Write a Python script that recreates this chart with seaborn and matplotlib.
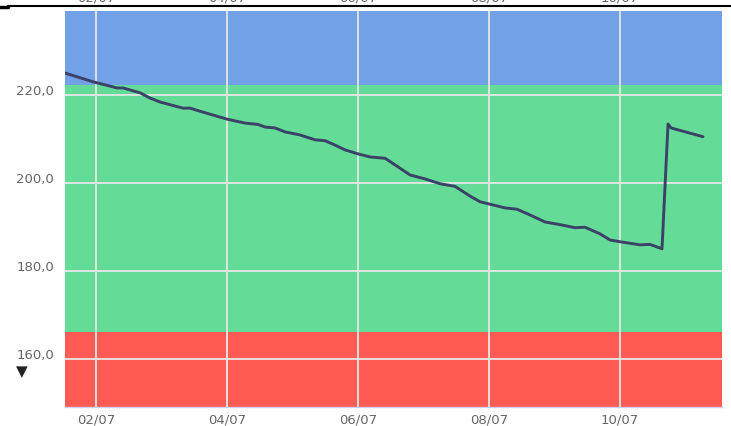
import pandas as pd
import matplotlib
matplotlib.use('Agg')
import matplotlib.pyplot as plt
import matplotlib.dates as mdates
from matplotlib.ticker import FuncFormatter
import seaborn as sns

# ==================== Data ====================
times = [
    '2023-07-01 12:38', '2023-07-01 22:54', '2023-07-02 07:42', '2023-07-02 09:54',
    '2023-07-02 16:06', '2023-07-02 19:48', '2023-07-02 23:27', '2023-07-03 07:52',
    '2023-07-03 10:26', '2023-07-03 15:12', '2023-07-04 00:00', '2023-07-04 06:35',
    '2023-07-04 11:21', '2023-07-04 13:55', '2023-07-04 17:35', '2023-07-04 21:15',
    '2023-07-05 02:45', '2023-07-05 08:14', '2023-07-05 11:54', '2023-07-05 15:34',
    '2023-07-05 19:14', '2023-07-06 00:00', '2023-07-06 04:24', '2023-07-06 09:54',
    '2023-07-06 13:34', '2023-07-06 19:03', '2023-07-07 00:33', '2023-07-07 06:03',
    '2023-07-07 11:32', '2023-07-07 17:02', '2023-07-07 20:42', '2023-07-08 00:00',
    '2023-07-08 05:52', '2023-07-08 10:16', '2023-07-08 15:01', '2023-07-08 20:31',
    '2023-07-09 02:00', '2023-07-09 07:30', '2023-07-09 11:10', '2023-07-09 16:40',
    '2023-07-09 20:20', '2023-07-10 00:00', '2023-07-10 07:20', '2023-07-10 10:59',
    '2023-07-10 15:23', '2023-07-10 17:35', '2023-07-10 18:41', '2023-07-11 06:24',
]
values = [
    225.0, 223.0, 221.6, 221.6,
    220.5, 219.3, 218.4, 217.0,
    217.0, 216.1, 214.5, 213.6,
    213.3, 212.7, 212.5, 211.6,
    210.9, 209.8, 209.6, 208.6,
    207.5, 206.6, 205.9, 205.6,
    204.1, 201.8, 200.9, 199.8,
    199.2, 197.0, 195.7, 195.2,
    194.3, 194.0, 192.7, 191.1,
    190.5, 189.8, 189.9, 188.4,
    187.0, 186.6, 185.9, 186.0,
    185.0, 213.4, 212.5, 210.5,
]

# threshold bands (low, high)
band_low = [149.0, 166.1, 222.3]
band_high = [166.1, 222.3, 239.1]
band_colors = ['#FF5A54', '#64DC98', '#73A1E8']

y_ticks = [160, 180, 200, 220]
x_ticks = ['2023-07-02', '2023-07-04', '2023-07-06', '2023-07-08', '2023-07-10']
x_range = ['2023-07-01 12:38', '2023-07-11 13:22']

df = pd.DataFrame({'time': pd.to_datetime(times), 'value': values})

# ==================== Plot ====================
sns.set_style('white')
plt.rcParams['font.family'] = ['DejaVu Sans']

fig = plt.figure(figsize=(7.31, 4.26), dpi=100)
ax = fig.add_axes([0.0889, 0.0446, 0.8988, 0.9295])

for lo, hi, c in zip(band_low, band_high, band_colors):
    ax.axhspan(lo, hi, color=c, lw=0, zorder=1)

sns.lineplot(data=df, x='time', y='value', ax=ax, color='#3B4268', lw=2.1, zorder=3)

ax.set_xlim(pd.to_datetime(x_range[0]), pd.to_datetime(x_range[1]))
ax.set_ylim(band_low[0], band_high[-1])
ax.set_xticks(pd.to_datetime(x_ticks))
ax.xaxis.set_major_formatter(mdates.DateFormatter('%d/%m'))
ax.set_yticks(y_ticks)
ax.yaxis.set_major_formatter(FuncFormatter(lambda v, p: f'{v:.1f}'.replace('.', ',')))

ax.set_axisbelow(False)
ax.grid(True, color='#E6E6E6', lw=1.3, zorder=2)
ax.tick_params(length=0, labelsize=9.5, colors='#666666')
ax.tick_params(axis='y', pad=8)
ax.tick_params(axis='x', pad=5)
for lab in ax.get_yticklabels():
    lab.set_va('baseline')
ax.set_xlabel('')
ax.set_ylabel('')
for s in ax.spines.values():
    s.set_visible(False)
ax.spines['bottom'].set_visible(True)
ax.spines['bottom'].set_color('#CCD0EE')
ax.spines['bottom'].set_linewidth(1)

# clipped labels of a top axis and black top rule (screenshot edge)
for t in x_ticks:
    xf = fig.transFigure.inverted().transform(
        ax.transData.transform((mdates.date2num(pd.to_datetime(t)), 0)))[0]
    fig.text(xf, 1.004, pd.to_datetime(t).strftime('%d/%m'), ha='center', va='center',
             fontsize=9.5, color='#666666')
fig.add_artist(plt.Line2D([0.011, 1.0], [0.986, 0.986], color='black', lw=1.5,
                          transform=fig.transFigure))
fig.add_artist(plt.Line2D([0.0, 0.011], [0.984, 0.984], color='black', lw=2.5,
                          transform=fig.transFigure))

fig.text(0.030, 0.127, '\u25BC', ha='center', va='center', fontsize=11, color='#222222')

fig.savefig('out.png', dpi=100)
plt.close(fig)
